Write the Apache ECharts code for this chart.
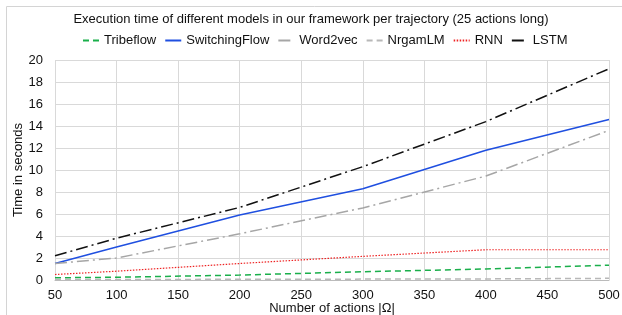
<!DOCTYPE html>
<html>
<head>
<meta charset="utf-8">
<script src="https://cdn.jsdelivr.net/npm/echarts@6/dist/echarts.min.js"></script>
<style>
  html, body { margin: 0; padding: 0; background: #fff; overflow: hidden; }
  #chart { width: 622px; height: 315px; }
</style>
</head>
<body>
<div id="chart"></div>
<script>
const actions = [50, 100, 200, 300, 400, 500];
const tribeflow = [0.2, 0.25, 0.45, 0.75, 1.0, 1.35];
const switchingFlow = [1.5, 3.0, 5.9, 8.3, 11.8, 14.6];
const word2vec = [1.5, 2.0, 4.2, 6.55, 9.45, 13.6];
const nrgamLM = [0.05, 0.05, 0.06, 0.08, 0.1, 0.15];
const rnn = [0.5, 0.8, 1.5, 2.15, 2.75, 2.75];
const lstm = [2.2, 3.8, 6.6, 10.3, 14.4, 19.2];

const pairs = ys => actions.map((x, i) => [x, ys[i]]);

const chart = echarts.init(document.getElementById('chart'), null, { renderer: 'canvas' });

const font = 'Helvetica, "Liberation Sans", Arial, sans-serif';

chart.setOption({
  animation: false,
  textStyle: { fontFamily: font },
  title: {
    text: 'Execution time of different models in our framework per trajectory (25 actions long)',
    left: 'center',
    top: 8,
    textStyle: { fontSize: 13, fontWeight: 'normal', color: '#111', fontFamily: font }
  },
  legend: {
    top: 29,
    left: 77,
    itemWidth: 16,
    itemHeight: 10,
    itemGap: 8,
    itemStyle: { opacity: 0 },
    textStyle: { fontSize: 13, color: '#111', fontFamily: font },
    data: ['Tribeflow', 'SwitchingFlow', 'Word2vec', 'NrgamLM', 'RNN', 'LSTM']
  },
  graphic: [{
    type: 'rect',
    shape: { x: 6.5, y: 6.5, width: 620, height: 320 },
    style: { fill: 'none', stroke: '#d4d4d4', lineWidth: 1 },
    silent: true
  }],
  grid: { left: 55, right: 13, top: 60, bottom: 35, outerBoundsMode: 'none' },
  xAxis: {
    type: 'value',
    min: 50,
    max: 500,
    interval: 50,
    name: 'Number of actions |Ω|',
    nameLocation: 'middle',
    nameGap: 22,
    nameMoveOverlap: false,
    nameTextStyle: { fontSize: 13, color: '#111', fontFamily: font },
    axisLine: { show: true, lineStyle: { color: '#bbb' } },
    axisTick: { show: false },
    axisLabel: { fontSize: 13, color: '#111', margin: 9 },
    splitLine: { show: true, lineStyle: { color: '#d9d9d9' } }
  },
  yAxis: {
    type: 'value',
    min: 0,
    max: 20,
    interval: 2,
    name: 'Time in seconds',
    nameLocation: 'middle',
    nameGap: 30,
    nameMoveOverlap: false,
    nameTextStyle: { fontSize: 13, color: '#111', fontFamily: font },
    axisLine: { show: false },
    axisTick: { show: false },
    axisLabel: { fontSize: 13, color: '#111', margin: 12 },
    splitLine: { show: true, lineStyle: { color: '#d9d9d9' } }
  },
  series: [
    {
      name: 'Tribeflow', type: 'line', data: pairs(tribeflow), symbol: 'none',
      itemStyle: { color: '#1aaf4b' },
      lineStyle: { color: '#1aaf4b', width: 1.5, type: [6, 4] }
    },
    {
      name: 'SwitchingFlow', type: 'line', data: pairs(switchingFlow), symbol: 'none',
      itemStyle: { color: '#1f4fe0' },
      lineStyle: { color: '#1f4fe0', width: 1.5, type: 'solid' }
    },
    {
      name: 'Word2vec', type: 'line', data: pairs(word2vec), symbol: 'none',
      itemStyle: { color: '#a6a6a6' },
      lineStyle: { color: '#a6a6a6', width: 1.5, type: [12, 4, 2, 4] }
    },
    {
      name: 'NrgamLM', type: 'line', data: pairs(nrgamLM), symbol: 'none',
      itemStyle: { color: '#b8b8b8' },
      lineStyle: { color: '#b8b8b8', width: 1.5, type: [6, 4] }
    },
    {
      name: 'RNN', type: 'line', data: pairs(rnn), symbol: 'none',
      itemStyle: { color: '#ee2222' },
      lineStyle: { color: '#ee2222', width: 1.2, type: [1.5, 1.5] }
    },
    {
      name: 'LSTM', type: 'line', data: pairs(lstm), symbol: 'none',
      itemStyle: { color: '#111' },
      lineStyle: { color: '#111', width: 1.5, type: [12, 4, 2, 4] }
    }
  ]
});
</script>
</body>
</html>
